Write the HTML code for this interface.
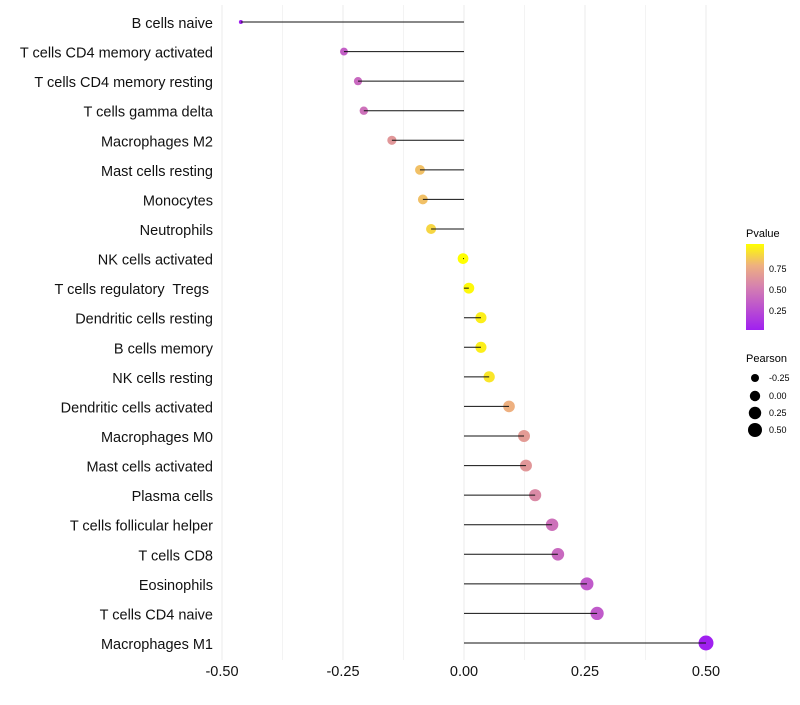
<!DOCTYPE html>
<html><head><meta charset="utf-8"><style>
body{margin:0;background:#fff}
svg{font-family:"Liberation Sans",sans-serif}
text{white-space:pre}
</style></head><body>
<svg id="c" width="800" height="700">
<defs><linearGradient id="grad" x1="0" y1="1" x2="0" y2="0">
<stop offset="0" stop-color="#a020f0"/><stop offset="0.5" stop-color="#d580b0"/><stop offset="0.75" stop-color="#eeb080"/><stop offset="1" stop-color="#ffff00"/></linearGradient></defs>
<g id="grid"></g><g id="marks"></g><g id="labels"></g><g id="ticks"></g>
<g>
<text x="746" y="237" font-size="11">Pvalue</text>
<rect x="746" y="244" width="18" height="86" fill="url(#grad)"/>
<text x="769" y="272" font-size="9">0.75</text>
<text x="769" y="293" font-size="9">0.50</text>
<text x="769" y="314" font-size="9">0.25</text>
</g>
<g>
<text x="746" y="362" font-size="11">Pearson</text>
<circle cx="755" cy="378" r="4"/><text x="769" y="381" font-size="9">-0.25</text>
<circle cx="755" cy="396" r="5.2"/><text x="769" y="399" font-size="9">0.00</text>
<circle cx="755" cy="413" r="6.2"/><text x="769" y="416" font-size="9">0.25</text>
<circle cx="755" cy="430" r="7"/><text x="769" y="433" font-size="9">0.50</text>
</g>
</svg>
<script>
const categories=["B cells naive","T cells CD4 memory activated","T cells CD4 memory resting","T cells gamma delta","Macrophages M2","Mast cells resting","Monocytes","Neutrophils","NK cells activated","T cells regulatory  Tregs ","Dendritic cells resting","B cells memory","NK cells resting","Dendritic cells activated","Macrophages M0","Mast cells activated","Plasma cells","T cells follicular helper","T cells CD8","Eosinophils","T cells CD4 naive","Macrophages M1"];
const pearson=[-0.461,-0.248,-0.219,-0.207,-0.149,-0.091,-0.085,-0.068,-0.002,0.010,0.035,0.035,0.052,0.093,0.124,0.128,0.147,0.182,0.194,0.254,0.275,0.50];
const pvalue=[0.0,0.33,0.38,0.42,0.62,0.8,0.8,0.87,1.0,0.98,0.95,0.95,0.92,0.75,0.64,0.62,0.55,0.42,0.38,0.3,0.3,0.0];
const xTicks=[-0.5,-0.25,0,0.25,0.5];
const xTickLabels=["-0.50","-0.25","0.00","0.25","0.50"];
const NS="http://www.w3.org/2000/svg";
const x=v=>464+v*484;
const y=i=>22+i*(643-22)/21;
function mk(t,a,p){const e=document.createElementNS(NS,t);for(const k in a)e.setAttribute(k,a[k]);p.appendChild(e);return e;}
function lerp(a,b,t){return a.map((v,i)=>Math.round(v+(b[i]-v)*t));}
const stops=[[0,[160,32,240]],[0.5,[213,128,176]],[0.75,[238,176,128]],[1,[255,255,0]]];
function col(p){for(let i=1;i<stops.length;i++){if(p<=stops[i][0]){const t=(p-stops[i-1][0])/(stops[i][0]-stops[i-1][0]);const c=lerp(stops[i-1][1],stops[i][1],t);return`rgb(${c})`;}}return"rgb(255,255,0)";}
const mn=Math.min(...pearson),mx=Math.max(...pearson);
const rad=v=>Math.sqrt(4+52*(v-mn)/(mx-mn));
const G=document.getElementById('grid'),M=document.getElementById('marks'),L=document.getElementById('labels'),T=document.getElementById('ticks');
for(let v=-0.5;v<=0.5001;v+=0.125){const l=mk('line',{x1:x(v),x2:x(v),y1:5,y2:660,stroke:'#ebebeb','stroke-width':Math.abs(v*4-Math.round(v*4))<1e-6?1:0.6},G);

}
categories.forEach((c,i)=>{
const cy=y(i);
const pt=mk('circle',{cx:x(pearson[i]),cy:cy,r:rad(pearson[i]),fill:col(pvalue[i])},M);


const sg=mk('line',{x1:x(0),x2:x(pearson[i]),y1:cy,y2:cy,stroke:'#111','stroke-width':1},M);


const t=mk('text',{x:213,y:cy+6,'text-anchor':'end','font-size':14.5,fill:'#111'},L);t.textContent=c;


});
xTicks.forEach((v,i)=>{const t=mk('text',{x:x(v),y:676,'text-anchor':'middle','font-size':14.5,fill:'#111'},T);t.textContent=xTickLabels[i];

});
</script>
</body></html>
